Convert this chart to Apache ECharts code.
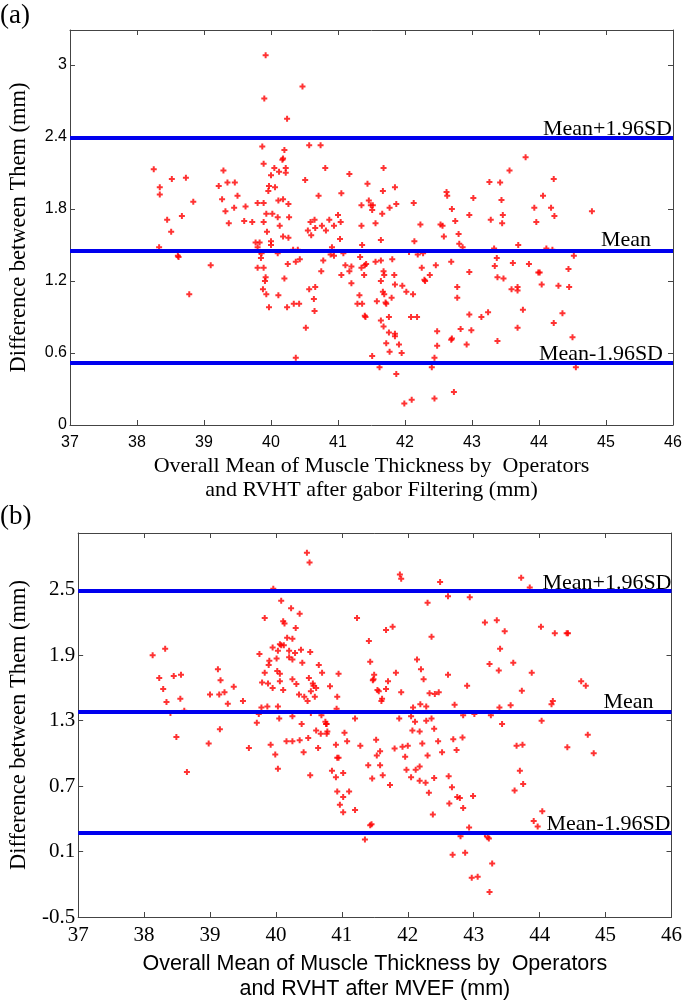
<!DOCTYPE html>
<html><head><meta charset="utf-8">
<script src="https://cdn.jsdelivr.net/npm/echarts@6/dist/echarts.min.js"></script>
<style>html,body{margin:0;padding:0;background:#fff}#c{width:685px;height:1003px}</style>
</head><body><div id="c"></div>
<script>
// ---- data ----
const pointsA = [
[39.92,3.08],[39.90,2.72],[39.87,2.32],[39.89,2.175],[38.25,2.13],[39.29,2.12],[38.73,2.06],[38.52,2.05],[39.22,1.99],[39.35,2.02],[39.46,2.02],[38.34,1.98],[38.34,1.92],[39.50,1.91],[39.27,1.88],[38.84,1.86],[39.80,1.85],[39.89,1.85],[39.32,1.78],[39.45,1.81],[39.62,1.82],[39.93,1.76],[38.45,1.71],[38.67,1.74],[39.37,1.68],[39.60,1.70],[39.72,1.69],[39.89,1.69],
[38.51,1.61],[39.94,1.61],[38.33,1.48],[39.77,1.52],[39.83,1.52],[39.80,1.48],[39.86,1.43],[39.85,1.39],[38.61,1.41],[38.62,1.40],[39.10,1.33],[39.80,1.31],[39.89,1.31],[39.92,1.23],[39.91,1.20],[39.88,1.13],[39.93,1.09],[38.78,1.09],[39.97,0.98],
[40.47,2.82],[40.24,2.55],[40.57,2.33],[40.74,2.33],[40.20,2.29],[40.18,2.22],[40.17,2.21],[40.05,2.14],[40.22,2.14],[40.12,2.11],[40.00,2.08],[40.22,2.10],[40.81,2.14],[41.17,2.09],[41.68,2.14],[39.97,1.99],[39.96,1.95],[40.06,1.98],[40.51,2.04],[41.44,2.01],[41.85,1.98],[41.67,1.95],[42.62,1.94],[42.63,1.91],[41.05,1.93],[40.71,1.91],[40.11,1.87],[40.18,1.88],[40.26,1.84],[41.35,1.83],[41.46,1.87],[41.49,1.83],[41.52,1.83],[41.51,1.79],[41.87,1.84],[41.77,1.81],[42.13,1.85],[42.70,1.80],[42.75,1.70],[41.66,1.76],[40.02,1.76],[40.10,1.73],[40.27,1.73],[40.13,1.66],[40.59,1.69],[40.65,1.71],[40.87,1.71],[41.00,1.75],[41.04,1.69],[40.76,1.66],[40.94,1.66],[41.35,1.66],[41.56,1.68],[42.23,1.67],[42.53,1.67],[42.56,1.66],[40.55,1.62],
[40.00,1.53],[40.00,1.50],[40.18,1.57],[40.26,1.56],[40.60,1.58],[40.66,1.64],[40.82,1.62],[41.03,1.55],[41.36,1.50],[41.64,1.54],[42.14,1.53],[42.58,1.57],[42.80,1.59],
[39.83,1.44],[40.10,1.43],[40.33,1.46],[40.40,1.46],[40.91,1.48],[40.89,1.42],[40.94,1.41],[41.08,1.43],[41.33,1.40],[42.06,1.44],[42.19,1.42],[42.27,1.43],[42.69,1.36],[42.81,1.51],
[40.25,1.34],[40.37,1.36],[40.43,1.38],[40.20,1.22],[40.11,1.08],[40.24,0.98],[40.34,1.01],[40.42,1.01],[40.57,1.13],[40.66,1.15],[40.64,1.05],[40.65,0.95],[40.52,0.81],[40.37,0.56],[40.75,1.28],[40.78,1.37],[41.05,1.25],[41.11,1.33],[41.20,1.32],[41.17,1.28],[41.20,1.18],[41.35,1.31],[41.40,1.33],[41.42,1.34],[41.39,1.25],[41.56,1.36],[41.64,1.37],[41.81,1.38],[41.68,1.28],[41.69,1.25],[41.84,1.25],[41.64,1.20],[41.85,1.17],[41.96,1.16],[42.29,1.21],[42.30,1.20],[42.37,1.25],[42.46,1.33],[42.25,1.31],[42.02,1.11],[42.12,1.09],[42.78,1.15],[42.78,1.06],[41.32,1.08],[41.29,1.01],[41.36,1.01],[41.67,1.11],[41.69,1.09],[41.58,1.03],[41.71,1.02],[41.72,1.01],[41.80,1.06],[41.40,0.91],[41.41,0.90],[41.64,0.87],[41.68,0.82],[41.76,0.90],[41.76,0.77],[41.85,0.76],[41.85,0.74],[41.72,0.68],[41.91,0.67],[41.77,0.61],[41.95,0.60],[41.51,0.575],[41.62,0.48],[41.87,0.425],[41.99,0.18],[42.10,0.21],[42.44,0.22],[42.09,0.90],[42.18,0.90],[42.48,0.78],[42.69,0.71],[42.70,0.72],[42.48,0.66],[42.44,0.56],[42.40,0.48],[42.73,0.275],[42.83,0.80],
[43.80,2.23],[43.56,2.12],[44.22,2.05],[43.26,2.025],[43.42,2.02],[44.06,1.91],[43.02,1.89],[43.44,1.875],[43.93,1.81],[44.18,1.81],[44.79,1.78],[42.96,1.75],[43.46,1.75],[44.23,1.74],[43.28,1.71],[43.45,1.68],[43.96,1.69],
[42.86,1.48],[43.33,1.47],[43.69,1.50],[44.11,1.47],[44.20,1.46],[44.52,1.41],[43.37,1.39],[43.34,1.325],[43.61,1.35],[43.85,1.34],[42.96,1.275],[43.38,1.23],[43.47,1.22],[44.01,1.27],[43.99,1.27],[44.44,1.30],[43.59,1.13],[43.68,1.15],[43.68,1.12],[44.04,1.17],[44.29,1.16],[44.45,1.15],[42.96,0.92],[43.14,0.90],[43.24,0.94],[43.76,0.96],[44.35,0.93],[44.22,0.85],[42.99,0.79],[43.68,0.81],[43.38,0.70],[42.92,0.67],[44.50,0.73],[44.55,0.48]
];
const pointsB = [
[40.47,2.84],[40.51,2.75],[39.96,2.51],[40.08,2.40],[40.23,2.33],[40.36,2.28],[39.83,2.24],[41.23,2.24],[40.11,2.21],[40.13,2.19],[40.30,2.15],[40.17,2.06],[40.25,2.05],[40.06,2.00],[40.08,1.99],[40.12,1.99],[39.95,1.97],[40.03,1.94],[40.38,1.95],[40.52,1.93],[40.20,1.94],[39.75,1.91],[40.29,1.92],[41.41,2.03],[41.43,1.84],[38.13,1.90],[38.32,1.96],[39.90,1.85],[40.01,1.87],[40.20,1.88],[40.25,1.86],[40.40,1.83],[39.89,1.81],[40.65,1.81],[39.12,1.77],[39.83,1.74],[40.02,1.755],[40.06,1.73],[40.25,1.68],[40.50,1.69],[40.70,1.74],[40.95,1.73],[38.45,1.71],[38.56,1.72],[38.23,1.69],[39.16,1.67],[39.79,1.65],[39.88,1.64],[40.06,1.66],[40.31,1.635],[40.56,1.64],[40.57,1.62],[40.61,1.60],[40.53,1.57],[39.95,1.60],[40.11,1.58],[40.82,1.615],[39.36,1.61],[38.29,1.59],[39.00,1.54],[39.14,1.54],[39.22,1.56],[40.35,1.54],[40.43,1.52],[40.48,1.48],[40.59,1.52],[40.93,1.52],[38.55,1.50],[38.34,1.47],[39.27,1.455],[39.50,1.48],[39.78,1.42],[39.87,1.43],[40.03,1.43],[40.92,1.41],
[41.88,2.64],[41.90,2.60],[42.49,2.57],[43.72,2.61],[43.85,2.52],[42.61,2.44],[42.94,2.43],[42.30,2.38],[43.35,2.22],[43.17,2.20],[43.47,2.12],[44.02,2.16],[44.23,2.10],[44.41,2.10],[44.43,2.10],[41.67,2.13],[41.77,2.16],[42.36,2.07],[43.40,1.96],[42.14,1.86],[43.24,1.82],[43.60,1.83],[43.38,1.76],[42.20,1.77],[43.88,1.74],[41.82,1.74],[41.49,1.72],[42.61,1.72],[42.24,1.68],[41.48,1.68],[41.47,1.67],[41.70,1.66],[44.63,1.66],[44.70,1.62],[42.90,1.62],[41.54,1.58],[41.56,1.57],[41.67,1.59],[41.90,1.56],[42.33,1.55],[42.41,1.545],[42.47,1.56],[43.73,1.575],[41.60,1.48],[41.61,1.50],[42.19,1.45],[42.08,1.42],[42.28,1.43],[42.71,1.445],[43.56,1.44],[44.20,1.48],[44.18,1.45],[43.39,1.42],
[38.40,1.37],[38.61,1.39],[39.74,1.36],[39.71,1.28],[40.05,1.32],[40.25,1.34],[40.39,1.27],[40.69,1.35],[40.53,1.37],[40.75,1.29],[40.76,1.27],[40.77,1.27],[40.78,1.20],[40.77,1.18],[40.68,1.18],[40.61,1.21],[41.20,1.32],[41.04,1.19],[41.08,1.11],[40.91,1.08],[38.49,1.15],[39.15,1.22],[38.98,1.09],[39.59,1.05],[39.92,1.08],[40.16,1.11],[40.25,1.11],[40.36,1.12],[40.49,1.14],[40.42,1.01],[40.64,1.05],[39.99,0.99],[40.03,0.86],[40.52,0.80],[40.93,0.96],[40.95,0.96],[40.85,0.84],[40.91,0.78],[41.02,0.82],[41.28,1.07],[41.40,0.89],[38.65,0.83],[40.93,0.65],[41.02,0.60],[41.11,0.65],[40.97,0.53],[41.02,0.46],[41.20,0.48],[41.43,0.34],[41.35,0.21],
[42.84,1.35],[43.01,1.36],[43.26,1.35],[41.87,1.32],[42.05,1.34],[42.11,1.29],[42.28,1.30],[42.36,1.32],[44.03,1.30],[43.43,1.27],[42.07,1.21],[42.18,1.20],[42.40,1.225],[44.73,1.17],[41.52,1.125],[42.22,1.09],[42.46,1.11],[42.69,1.13],[42.83,1.145],[41.80,1.045],[41.92,1.06],[42.00,1.07],[42.74,1.03],[43.65,1.07],[43.74,1.08],[44.42,1.055],[44.82,1.00],[41.58,1.02],[41.53,0.98],[41.96,0.97],[42.30,0.98],[42.52,1.01],[41.58,0.89],[41.98,0.85],[42.12,0.85],[42.18,0.88],[43.70,0.84],[41.46,0.77],[41.62,0.80],[42.05,0.78],[42.18,0.75],[42.27,0.73],[42.40,0.775],[42.62,0.79],[41.73,0.71],[42.67,0.69],[43.75,0.72],[43.62,0.66],[42.32,0.64],[42.75,0.60],[42.79,0.59],[42.99,0.61],[42.63,0.54],[42.84,0.50],[42.38,0.44],[44.04,0.47],[43.91,0.38],[43.97,0.33],[41.45,0.35],[42.93,0.32],[42.80,0.24],[43.17,0.26],[43.21,0.23],[43.23,0.22],[42.68,0.07],[42.87,0.09],[43.28,-0.01],[42.97,-0.14],[43.06,-0.13],[43.24,-0.27]
];
const limitNames = ['Mean+1.96SD', 'Mean', 'Mean-1.96SD'];
const limitValuesA = [2.39, 1.45, 0.52];
const limitValuesB = [2.49, 1.38, 0.27];
const xRange = [37, 46];
const xStep = 1;
const yRangeA = [0, 3.29];
const yRangeB = [-0.5, 3.02];
const yStep = 0.6;
const panelLabels = ['(a)', '(b)'];
const xTitleA = 'Overall Mean of Muscle Thickness by  Operators\nand RVHT after gabor Filtering (mm)';
const xTitleB = 'Overall Mean of Muscle Thickness by  Operators\nand RVHT after MVEF (mm)';
const yTitle = 'Difference between Them (mm)';

// ---- styling ----
const SERIF = '"Liberation Serif","Times New Roman",serif';
const SANS = '"Liberation Sans",Arial,sans-serif';
const AX = '#444';
const plus = 'path://M2,0H4V2H6V4H4V6H2V4H0V2H2Z';

function fmtY(min) {
  return function (v) {
    const k = (v - min) / yStep;
    if (Math.abs(k - Math.round(k)) > 1e-6) return '';
    return String(Math.round(v * 100) / 100);
  };
}
function xAx(grid, pos, show, labelFont, labelSize, margin, title, titleFont, titleSize, gap, lh) {
  return {
    type: 'value', gridIndex: grid, position: pos, min: xRange[0], max: xRange[1], interval: xStep,
    axisLine: { show: true, onZero: false, lineStyle: { color: AX, width: 1 } },
    axisTick: { show: true, inside: true, length: 5, lineStyle: { color: AX } },
    axisLabel: { show: show, margin: margin, color: '#000', fontFamily: labelFont, fontSize: labelSize },
    splitLine: { show: false },
    name: show ? title : '', nameLocation: 'middle', nameGap: gap,
    nameTextStyle: { color: '#000', fontFamily: titleFont, fontSize: titleSize, lineHeight: lh }
  };
}
function yAx(grid, pos, show, range, labelFont, labelSize, gap) {
  return {
    type: 'value', gridIndex: grid, position: pos, min: range[0], max: range[1], interval: yStep,
    axisLine: { show: true, onZero: false, lineStyle: { color: AX, width: 1 } },
    axisTick: { show: true, inside: true, length: 5, lineStyle: { color: AX } },
    axisLabel: { show: show, margin: 3, color: '#000', fontFamily: labelFont, fontSize: labelSize, formatter: fmtY(range[0]), showMaxLabel: false },
    splitLine: { show: false },
    name: show ? yTitle : '', nameLocation: 'middle', nameGap: gap, nameRotate: 90,
    nameTextStyle: { color: '#000', fontFamily: SERIF, fontSize: 22.5 }
  };
}
function limitLines(values, dists) {
  return {
    silent: true, symbol: ['none', 'none'],
    lineStyle: { color: '#0000ee', width: 4, type: 'solid' },
    data: values.map((v, i) => ({
      yAxis: v,
      label: {
        show: true, formatter: limitNames[i], position: 'insideEndTop', distance: dists[i],
        color: '#000', fontFamily: SERIF, fontSize: 22
      }
    }))
  };
}

const chart = echarts.init(document.getElementById('c'), null, { renderer: 'canvas' });
chart.setOption({
  animation: false,
  backgroundColor: '#fff',
  grid: [
    { left: 65, top: 30, width: 608, height: 395 },
    { left: 65, top: 533, width: 608, height: 389 }
  ],
  xAxis: [
    xAx(0, 'bottom', true, SANS, 16, 10, xTitleA, SERIF, 22, 29, 24),
    xAx(0, 'top', false),
    xAx(1, 'bottom', true, SERIF, 21, 8, xTitleB, SANS, 21.5, 35, 25),
    xAx(1, 'top', false)
  ],
  yAxis: [
    yAx(0, 'left', true, yRangeA, SANS, 16, 39),
    yAx(0, 'right', false, yRangeA),
    yAx(1, 'left', true, yRangeB, SERIF, 21, 39),
    yAx(1, 'right', false, yRangeB)
  ],
  graphic: [
    { type: 'text', left: 0, top: 2, style: { text: panelLabels[0], fontFamily: SERIF, fontSize: 27, fill: '#000' } },
    { type: 'text', left: 0, top: 503, style: { text: panelLabels[1], fontFamily: SERIF, fontSize: 27, fill: '#000' } }
  ],
  series: [
    {
      type: 'scatter', xAxisIndex: 0, yAxisIndex: 0, data: pointsA,
      symbol: plus, symbolSize: 6, itemStyle: { color: '#ff0000' }, z: 3,
      markLine: limitLines(limitValuesA, [[1, -2], [22, 0], [10, -3]])
    },
    {
      type: 'scatter', xAxisIndex: 2, yAxisIndex: 2, data: pointsB,
      symbol: plus, symbolSize: 6, itemStyle: { color: '#ff0000' }, z: 3,
      markLine: limitLines(limitValuesB, [[0, -3], [18, -1], [1, -2]])
    }
  ]
});
</script></body></html>
